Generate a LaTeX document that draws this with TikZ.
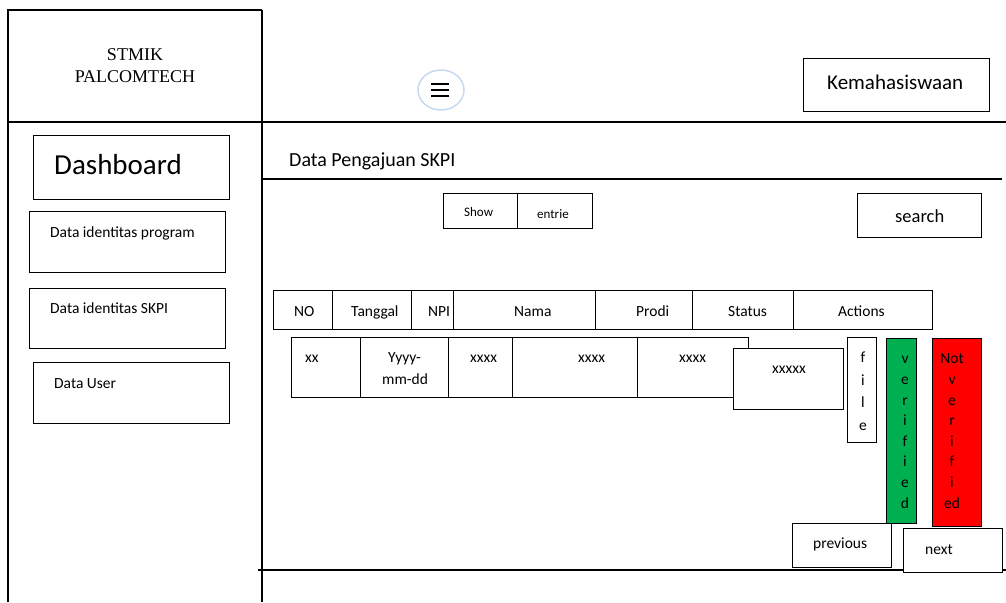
\documentclass[tikz,border=0pt]{standalone}
\usepackage{fontspec}
\setmainfont{Carlito}
\newfontfamily\titleserif{Liberation Serif}
\usetikzlibrary{shapes.geometric, positioning}
\definecolor{okgreen}{HTML}{00B050}
\definecolor{nored}{HTML}{FF0000}
\definecolor{menublue}{HTML}{C6D9F1}

\begin{document}
\begin{tikzpicture}[x=1pt, y=-1pt,
    box/.style={draw, line width=1.4pt, fill=white, inner sep=0pt, anchor=north west},
    txt/.style={inner sep=0pt, anchor=base west, font=\fontsize{15.5}{19}\selectfont},
    stack/.style={inner sep=0pt, anchor=base, align=center, font=\fontsize{15.5}{20.6}\selectfont},
    frameline/.style={line width=1.6pt}]
\useasboundingbox (0,0) rectangle (1006,602);

% frame of the page
\draw[frameline] (8,602) -- (8,10) -- (262,10);
\draw[frameline] (262,10) -- (262,602);
\draw[frameline] (8,122) -- (1006,122);
\draw[frameline] (262,179) -- (1002,179);
\draw[frameline] (258,570) -- (1006,570);

% header
\node[inner sep=0pt, align=center, font=\titleserif\fontsize{18}{22}\selectfont] (logo) at (135,66) {STMIK\\PALCOMTECH};
\node[ellipse, draw=menublue, line width=1.5pt, minimum width=46, minimum height=40, inner sep=0pt] (menu) at (441,90) {};
\draw[line width=1.6pt] (431,84) -- (449,84);
\draw[line width=1.6pt] (431,90) -- (449,90);
\draw[line width=1.6pt] (431,96) -- (449,96);
\node[box, minimum width=186, minimum height=53] (kema) at (803,58) {};
\node[txt, font=\fontsize{21}{25}\selectfont] (kematxt) at (827,89) {Kemahasiswaan};

% side menu
\node[box, minimum width=196, minimum height=64] (dash) at (33,135) {};
\node[txt, font=\fontsize{29}{35}\selectfont] (dashtxt) at (54,174) {Dashboard};
\node[box, minimum width=196, minimum height=61] (prog) at (29,211) {};
\node[txt] (progtxt) at (50,237) {Data identitas program};
\node[box, minimum width=196, minimum height=60] (skpi) at (29,288) {};
\node[txt] (skpitxt) at (50,313) {Data identitas SKPI};
\node[box, minimum width=196, minimum height=61] (user) at (33,362) {};
\node[txt] (usertxt) at (54,388) {Data User};

% content
\node[txt, font=\fontsize{20}{24}\selectfont] (title) at (289,166) {Data Pengajuan SKPI};
\node[box, minimum width=74, minimum height=35] (show) at (443,193) {};
\node[box, minimum width=75, minimum height=35] (entrie) at (517,193) {};
\node[txt, font=\fontsize{13}{16}\selectfont] (showtxt) at (464,216) {Show};
\node[txt, font=\fontsize{13}{16}\selectfont] (entrietxt) at (537,218) {entrie};
\node[box, minimum width=124, minimum height=44] (search) at (857,193) {};
\node[txt, font=\fontsize{18.5}{22}\selectfont] (searchtxt) at (895,222) {search};

% table head
\node[box, minimum width=59, minimum height=39] (hno) at (273,290) {};
\node[box, minimum width=79, minimum height=39] (htgl) at (332,290) {};
\node[box, minimum width=42, minimum height=39] (hnpi) at (411,290) {};
\node[txt] (hnpitxt) at (428,316) {NPI};
\node[box, minimum width=142, minimum height=39] (hnama) at (453,290) {};
\node[box, minimum width=97, minimum height=39] (hprodi) at (595,290) {};
\node[box, minimum width=101, minimum height=39] (hstatus) at (692,290) {};
\node[box, minimum width=139, minimum height=39] (hact) at (793,290) {};
\node[txt] (hnotxt) at (294,316) {NO};
\node[txt] (htgltxt) at (351,316) {Tanggal};
\node[txt] (hnamatxt) at (514,316) {Nama};
\node[txt] (hproditxt) at (636,316) {Prodi};
\node[txt] (hstatustxt) at (728,316) {Status};
\node[txt] (hacttxt) at (838,316) {Actions};

% table row
\node[box, minimum width=69, minimum height=60] (rno) at (291,337) {};
\node[box, minimum width=88, minimum height=60] (rtgl) at (360,337) {};
\node[box, minimum width=64, minimum height=60] (rnpi) at (448,337) {};
\node[box, minimum width=125, minimum height=60] (rnama) at (512,337) {};
\node[box, minimum width=111, minimum height=60] (rprodi) at (637,337) {};
\node[txt] (rnotxt) at (305,362) {xx};
\node[txt] (rtgltxt) at (388,362) {Yyyy-};
\node[txt] (rtgltxt2) at (382,384) {mm-dd};
\node[txt] (rnpitxt) at (470,362) {xxxx};
\node[txt] (rnamatxt) at (578,362) {xxxx};
\node[txt] (rproditxt) at (679,362) {xxxx};
\node[box, minimum width=110, minimum height=61] (rstatus) at (733,348) {};
\node[txt] (rstatustxt) at (772,373) {xxxxx};

% actions
\node[box, minimum width=29, minimum height=105] (file) at (847,337) {};
\node[stack, font=\fontsize{15.5}{22.4}\selectfont] (filetxt) at (863,430) {f\\i\\l\\e};
\node[box, fill=okgreen, minimum width=30, minimum height=185] (verif) at (886,338) {};
\node[stack] (veriftxt) at (905,508) {v\\e\\r\\i\\f\\i\\e\\d};
\node[box, fill=nored, minimum width=49, minimum height=188] (notverif) at (932,338) {};
\node[stack] (notveriftxt) at (952,508) {Not\\v\\e\\r\\i\\f\\i\\ed};

% paging
\node[box, minimum width=99, minimum height=44] (prev) at (792,523) {};
\node[txt] (prevtxt) at (813,548) {previous};
\node[box, minimum width=99, minimum height=44] (next) at (903,528) {};
\node[txt] (nexttxt) at (925,554) {next};
\end{tikzpicture}
\end{document}
